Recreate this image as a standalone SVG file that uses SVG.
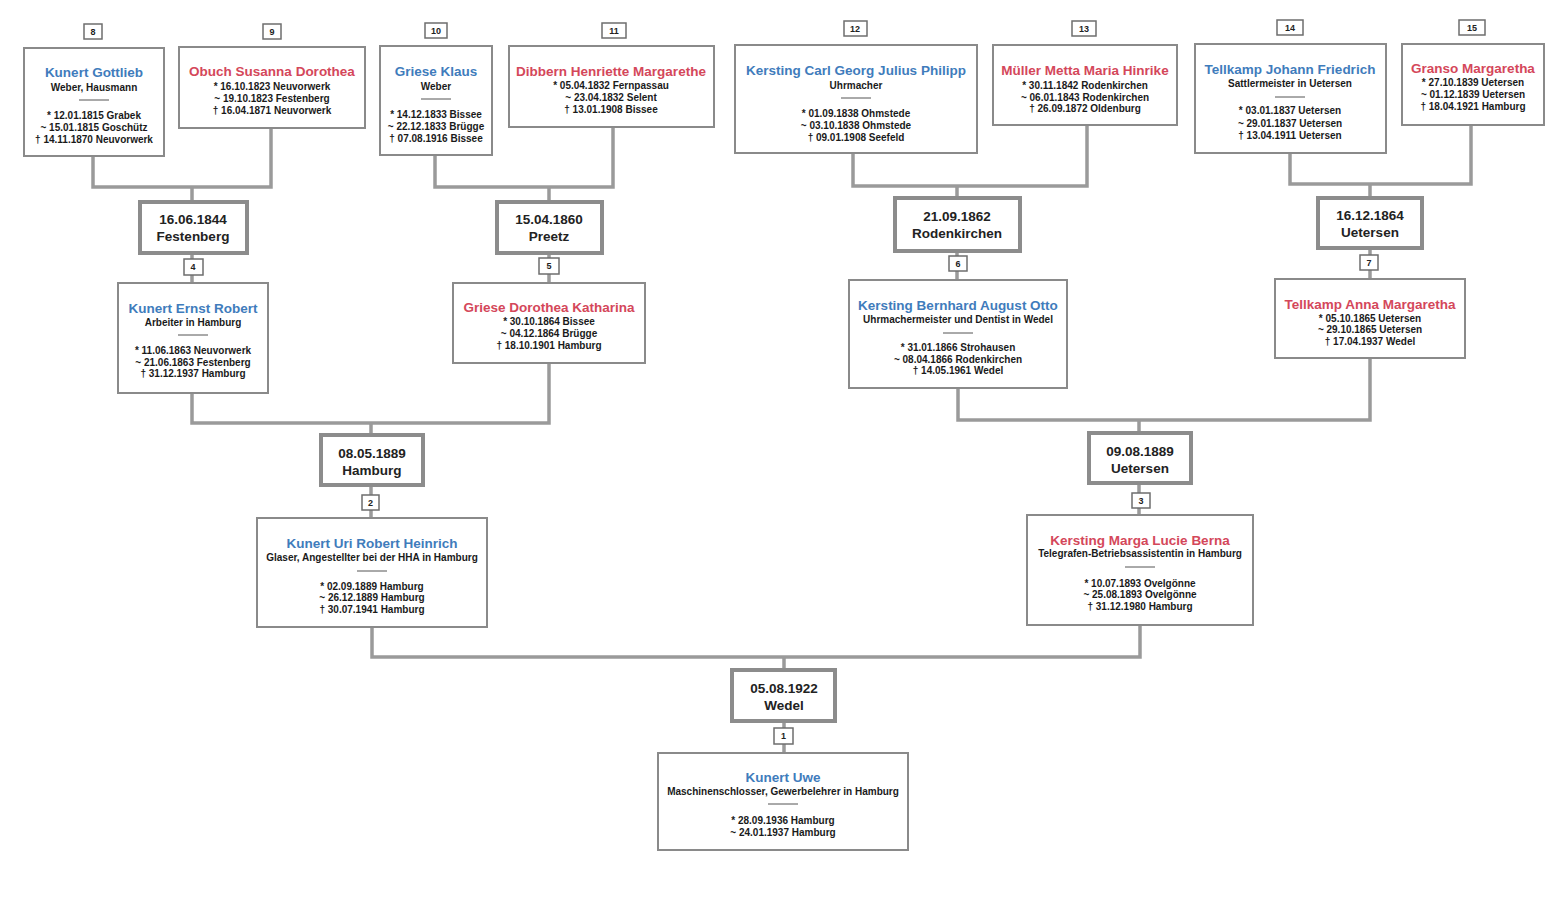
<svg xmlns="http://www.w3.org/2000/svg" width="1558" height="898" viewBox="0 0 1558 898">
<style>
.box{fill:#fff;stroke:#8a8a8a;stroke-width:2}
.mbox{fill:#fff;stroke:#8c8c8c;stroke-width:4}
.lbl{fill:#fff;stroke:#6e6e6e;stroke-width:1.5}
.conn{stroke:#9a9a9a;stroke-width:3.5;fill:none}
.sep{stroke:#555;stroke-width:1}
text{font-family:"Liberation Sans",Arial,sans-serif;text-anchor:middle;font-weight:bold}
.m{fill:#3f7cbc;font-size:13.5px}
.f{fill:#d4475a;font-size:13.5px}
.d{fill:#1a1a1a;font-size:10px}
.mt{fill:#222;font-size:13.5px}
.n{fill:#222;font-size:9px}
</style>
<rect width="1558" height="898" fill="#fff"/>
<g id="connectors">
<path class="conn" d="M93,156 V187 H271 V128 M192,187 V202 M192,253 V283"/>
<path class="conn" d="M435,155 V187 H613 V127 M549,187 V202 M549,253 V283"/>
<path class="conn" d="M853,153 V186 H1087 V125 M957,186 V198 M957,251 V280"/>
<path class="conn" d="M1290,153 V184 H1471 V125 M1370,184 V198 M1370,248 V279"/>
<path class="conn" d="M192,393 V423 H549 V363 M371,423 V435 M371,485 V518"/>
<path class="conn" d="M958,388 V420 H1370 V358 M1139,420 V433 M1139,483 V515"/>
<path class="conn" d="M372,627 V657 H1140 V625 M784,657 V670 M784,722 V753"/>
</g>
<g id="n8">
<rect class="lbl" x="84" y="24" width="18" height="15"/><text class="n" x="93" y="35">8</text>
<rect class="box" x="24" y="48" width="140" height="108"/>
<text class="m" x="94" y="77">Kunert Gottlieb</text>
<text class="d" x="94" y="91">Weber, Hausmann</text>
<line class="sep" x1="79" y1="100" x2="109" y2="100"/>
<text class="d" x="94" y="119">* 12.01.1815 Grabek</text>
<text class="d" x="94" y="131">~ 15.01.1815 Goschütz</text>
<text class="d" x="94" y="143">† 14.11.1870 Neuvorwerk</text>
</g>
<g id="n9">
<rect class="lbl" x="263" y="24" width="18" height="15"/><text class="n" x="272" y="35">9</text>
<rect class="box" x="179" y="47" width="186" height="81"/>
<text class="f" x="272" y="76">Obuch Susanna Dorothea</text>
<text class="d" x="272" y="90">* 16.10.1823 Neuvorwerk</text>
<text class="d" x="272" y="102">~ 19.10.1823 Festenberg</text>
<text class="d" x="272" y="114">† 16.04.1871 Neuvorwerk</text>
</g>
<g id="n10">
<rect class="lbl" x="425" y="23" width="22" height="15"/><text class="n" x="436" y="34">10</text>
<rect class="box" x="380" y="46" width="112" height="109"/>
<text class="m" x="436" y="76">Griese Klaus</text>
<text class="d" x="436" y="90">Weber</text>
<line class="sep" x1="421" y1="99" x2="451" y2="99"/>
<text class="d" x="436" y="118">* 14.12.1833 Bissee</text>
<text class="d" x="436" y="130">~ 22.12.1833 Brügge</text>
<text class="d" x="436" y="142">† 07.08.1916 Bissee</text>
</g>
<g id="n11">
<rect class="lbl" x="602" y="23" width="24" height="15"/><text class="n" x="614" y="34">11</text>
<rect class="box" x="509" y="46" width="205" height="81"/>
<text class="f" x="611" y="76">Dibbern Henriette Margarethe</text>
<text class="d" x="611" y="89">* 05.04.1832 Fernpassau</text>
<text class="d" x="611" y="101">~ 23.04.1832 Selent</text>
<text class="d" x="611" y="113">† 13.01.1908 Bissee</text>
</g>
<g id="n12">
<rect class="lbl" x="844" y="21" width="23" height="15"/><text class="n" x="855" y="32">12</text>
<rect class="box" x="735" y="45" width="242" height="108"/>
<text class="m" x="856" y="75">Kersting Carl Georg Julius Philipp</text>
<text class="d" x="856" y="89">Uhrmacher</text>
<line class="sep" x1="841" y1="98" x2="871" y2="98"/>
<text class="d" x="856" y="117">* 01.09.1838 Ohmstede</text>
<text class="d" x="856" y="129">~ 03.10.1838 Ohmstede</text>
<text class="d" x="856" y="141">† 09.01.1908 Seefeld</text>
</g>
<g id="n13">
<rect class="lbl" x="1072" y="21" width="24" height="15"/><text class="n" x="1084" y="32">13</text>
<rect class="box" x="993" y="45" width="184" height="80"/>
<text class="f" x="1085" y="75">Müller Metta Maria Hinrike</text>
<text class="d" x="1085" y="89">* 30.11.1842 Rodenkirchen</text>
<text class="d" x="1085" y="101">~ 06.01.1843 Rodenkirchen</text>
<text class="d" x="1085" y="112">† 26.09.1872 Oldenburg</text>
</g>
<g id="n14">
<rect class="lbl" x="1277" y="20" width="26" height="15"/><text class="n" x="1290" y="31">14</text>
<rect class="box" x="1195" y="44" width="191" height="109"/>
<text class="m" x="1290" y="74">Tellkamp Johann Friedrich</text>
<text class="d" x="1290" y="87">Sattlermeister in Uetersen</text>
<line class="sep" x1="1275" y1="97" x2="1305" y2="97"/>
<text class="d" x="1290" y="114">* 03.01.1837 Uetersen</text>
<text class="d" x="1290" y="127">~ 29.01.1837 Uetersen</text>
<text class="d" x="1290" y="139">† 13.04.1911 Uetersen</text>
</g>
<g id="n15">
<rect class="lbl" x="1459" y="20" width="26" height="15"/><text class="n" x="1472" y="31">15</text>
<rect class="box" x="1402" y="44" width="142" height="81"/>
<text class="f" x="1473" y="73">Granso Margaretha</text>
<text class="d" x="1473" y="86">* 27.10.1839 Uetersen</text>
<text class="d" x="1473" y="98">~ 01.12.1839 Uetersen</text>
<text class="d" x="1473" y="110">† 18.04.1921 Hamburg</text>
</g>
<g id="m4">
<rect class="mbox" x="140" y="202" width="107" height="51"/>
<text class="mt" x="193" y="224">16.06.1844</text>
<text class="mt" x="193" y="241">Festenberg</text>
</g>
<g id="m5">
<rect class="mbox" x="497" y="202" width="105" height="51"/>
<text class="mt" x="549" y="224">15.04.1860</text>
<text class="mt" x="549" y="241">Preetz</text>
</g>
<g id="m6">
<rect class="mbox" x="895" y="198" width="125" height="53"/>
<text class="mt" x="957" y="221">21.09.1862</text>
<text class="mt" x="957" y="238">Rodenkirchen</text>
</g>
<g id="m7">
<rect class="mbox" x="1318" y="198" width="104" height="50"/>
<text class="mt" x="1370" y="220">16.12.1864</text>
<text class="mt" x="1370" y="237">Uetersen</text>
</g>
<g id="n4">
<rect class="lbl" x="184" y="259" width="19" height="16"/><text class="n" x="193" y="270">4</text>
<rect class="box" x="118" y="283" width="150" height="110"/>
<text class="m" x="193" y="313">Kunert Ernst Robert</text>
<text class="d" x="193" y="326">Arbeiter in Hamburg</text>
<line class="sep" x1="178" y1="335" x2="208" y2="335"/>
<text class="d" x="193" y="354">* 11.06.1863 Neuvorwerk</text>
<text class="d" x="193" y="366">~ 21.06.1863 Festenberg</text>
<text class="d" x="193" y="377">† 31.12.1937 Hamburg</text>
</g>
<g id="n5">
<rect class="lbl" x="539" y="258" width="20" height="16"/><text class="n" x="549" y="269">5</text>
<rect class="box" x="453" y="283" width="192" height="80"/>
<text class="f" x="549" y="312">Griese Dorothea Katharina</text>
<text class="d" x="549" y="325">* 30.10.1864 Bissee</text>
<text class="d" x="549" y="337">~ 04.12.1864 Brügge</text>
<text class="d" x="549" y="349">† 18.10.1901 Hamburg</text>
</g>
<g id="n6">
<rect class="lbl" x="949" y="256" width="18" height="15"/><text class="n" x="958" y="267">6</text>
<rect class="box" x="849" y="280" width="218" height="108"/>
<text class="m" x="958" y="310">Kersting Bernhard August Otto</text>
<text class="d" x="958" y="323">Uhrmachermeister und Dentist in Wedel</text>
<line class="sep" x1="943" y1="333" x2="973" y2="333"/>
<text class="d" x="958" y="351">* 31.01.1866 Strohausen</text>
<text class="d" x="958" y="363">~ 08.04.1866 Rodenkirchen</text>
<text class="d" x="958" y="374">† 14.05.1961 Wedel</text>
</g>
<g id="n7">
<rect class="lbl" x="1360" y="255" width="18" height="15"/><text class="n" x="1369" y="266">7</text>
<rect class="box" x="1275" y="279" width="190" height="79"/>
<text class="f" x="1370" y="309">Tellkamp Anna Margaretha</text>
<text class="d" x="1370" y="322">* 05.10.1865 Uetersen</text>
<text class="d" x="1370" y="333">~ 29.10.1865 Uetersen</text>
<text class="d" x="1370" y="345">† 17.04.1937 Wedel</text>
</g>
<g id="m2">
<rect class="mbox" x="321" y="435" width="102" height="50"/>
<text class="mt" x="372" y="458">08.05.1889</text>
<text class="mt" x="372" y="475">Hamburg</text>
</g>
<g id="m3">
<rect class="mbox" x="1089" y="433" width="102" height="50"/>
<text class="mt" x="1140" y="456">09.08.1889</text>
<text class="mt" x="1140" y="473">Uetersen</text>
</g>
<g id="n2">
<rect class="lbl" x="362" y="495" width="17" height="15"/><text class="n" x="370.5" y="506">2</text>
<rect class="box" x="257" y="518" width="230" height="109"/>
<text class="m" x="372" y="548">Kunert Uri Robert Heinrich</text>
<text class="d" x="372" y="561">Glaser, Angestellter bei der HHA in Hamburg</text>
<line class="sep" x1="357" y1="571" x2="387" y2="571"/>
<text class="d" x="372" y="590">* 02.09.1889 Hamburg</text>
<text class="d" x="372" y="601">~ 26.12.1889 Hamburg</text>
<text class="d" x="372" y="613">† 30.07.1941 Hamburg</text>
</g>
<g id="n3">
<rect class="lbl" x="1132" y="493" width="18" height="15"/><text class="n" x="1141" y="504">3</text>
<rect class="box" x="1027" y="515" width="226" height="110"/>
<text class="f" x="1140" y="545">Kersting Marga Lucie Berna</text>
<text class="d" x="1140" y="557">Telegrafen-Betriebsassistentin in Hamburg</text>
<line class="sep" x1="1125" y1="567" x2="1155" y2="567"/>
<text class="d" x="1140" y="587">* 10.07.1893 Ovelgönne</text>
<text class="d" x="1140" y="598">~ 25.08.1893 Ovelgönne</text>
<text class="d" x="1140" y="610">† 31.12.1980 Hamburg</text>
</g>
<g id="m1">
<rect class="mbox" x="732" y="670" width="103" height="51"/>
<text class="mt" x="784" y="693">05.08.1922</text>
<text class="mt" x="784" y="710">Wedel</text>
</g>
<g id="n1">
<rect class="lbl" x="774" y="728" width="19" height="16"/><text class="n" x="783.5" y="739">1</text>
<rect class="box" x="658" y="753" width="250" height="97"/>
<text class="m" x="783" y="782">Kunert Uwe</text>
<text class="d" x="783" y="795">Maschinenschlosser, Gewerbelehrer in Hamburg</text>
<line class="sep" x1="768" y1="804" x2="798" y2="804"/>
<text class="d" x="783" y="824">* 28.09.1936 Hamburg</text>
<text class="d" x="783" y="836">~ 24.01.1937 Hamburg</text>
</g>
</svg>
